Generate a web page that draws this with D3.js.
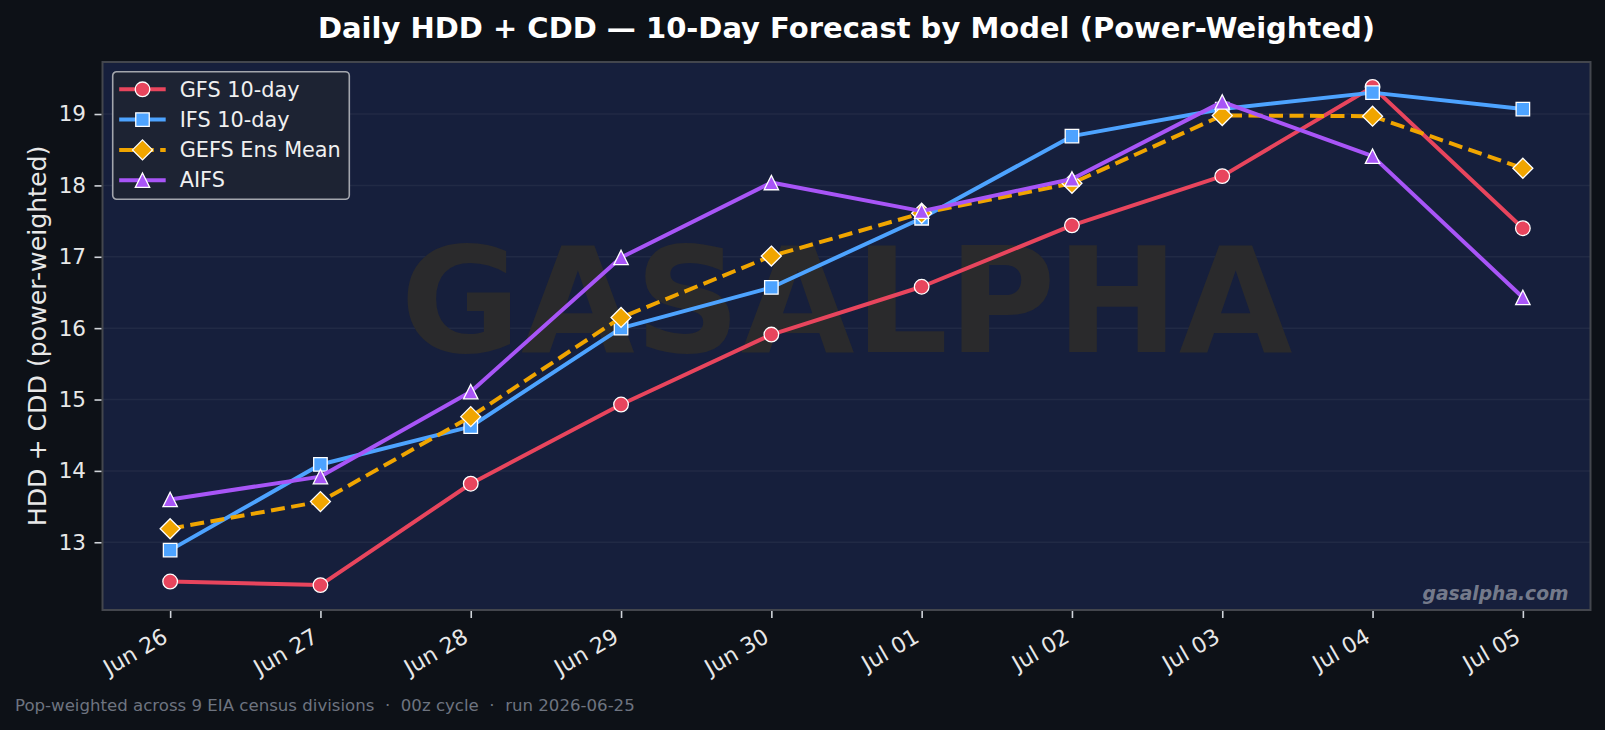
<!DOCTYPE html>
<html>
<head>
<meta charset="utf-8">
<script src="https://cdn.jsdelivr.net/npm/d3@7"></script>
<style>
  html, body { margin: 0; padding: 0; background: #0d1117; }
  text { font-family: "DejaVu Sans", sans-serif; }
</style>
</head>
<body>
<div id="chart"></div>
<script>
// forecast days and model values (HDD + CDD, power-weighted)
days = ['Jun 26', 'Jun 27', 'Jun 28', 'Jun 29', 'Jun 30', 'Jul 01', 'Jul 02', 'Jul 03', 'Jul 04', 'Jul 05']
gfs  = [12.45, 12.40, 13.82, 14.93, 15.91, 16.58, 17.44, 18.13, 19.38, 17.40]
ifs  = [12.89, 14.09, 14.62, 16.00, 16.57, 17.54, 18.69, 19.07, 19.30, 19.07]
gefs = [13.19, 13.57, 14.76, 16.15, 17.01, 17.61, 18.03, 18.98, 18.97, 18.24]
aifs = [13.60, 13.92, 15.11, 16.99, 18.04, 17.64, 18.09, 19.17, 18.41, 16.43]
yTicks = [13, 14, 15, 16, 17, 18, 19]

series = [
    {name: 'GFS 10-day',    values: gfs,  color: '#e8455d', marker: 'circle',   dash: null},
    {name: 'IFS 10-day',    values: ifs,  color: '#4da3ff', marker: 'square',   dash: null},
    {name: 'GEFS Ens Mean', values: gefs, color: '#f0a500', marker: 'diamond',  dash: '14,6.5'},
    {name: 'AIFS',          values: aifs, color: '#a855f7', marker: 'triangle', dash: null}
]

svgWidth = 1605
svgHeight = 730

margin = {top: 62, left: 102.5, right: 14.5, bottom: 120}
width = svgWidth - margin.left - margin.right
height = svgHeight - margin.top - margin.bottom

svg = d3.select('#chart')
        .append('svg')
        .attr('width', svgWidth)
        .attr('height', svgHeight)
        .style('display', 'block')

svg.append('rect')
   .attr('width', svgWidth)
   .attr('height', svgHeight)
   .attr('fill', '#0d1117')

chartGroup = svg.append('g')
                .attr('transform', `translate(${margin.left},${margin.top})`)

chartGroup.append('rect')
          .attr('width', width)
          .attr('height', height)
          .attr('fill', '#161f3c')

// scales, matplotlib-like 5% margins
xScale = d3.scalePoint()
           .domain(days)
           .range([0, width])
           .padding(0.45)

allValues = series.flatMap(s => s.values)
yMin = d3.min(allValues)
yMax = d3.max(allValues)
pad = (yMax - yMin) * 0.05
yScale = d3.scaleLinear()
           .domain([yMin - pad, yMax + pad])
           .range([height, 0])

// grid
chartGroup.append('g')
          .selectAll('line')
          .data(yTicks)
          .enter()
          .append('line')
          .attr('x1', 0)
          .attr('x2', width)
          .attr('y1', d => yScale(d))
          .attr('y2', d => yScale(d))
          .attr('stroke', '#ffffff')
          .attr('stroke-opacity', 0.05)
          .attr('stroke-width', 1.5)

// watermark
chartGroup.append('text')
          .attr('x', width / 2)
          .attr('y', 352 - margin.top)
          .attr('text-anchor', 'middle')
          .attr('font-size', 147)
          .attr('font-weight', 'bold')
          .attr('fill', '#2a2a2c')
          .text('GASALPHA')

chartGroup.append('text')
          .attr('x', width - 22)
          .attr('y', height - 10)
          .attr('text-anchor', 'end')
          .attr('font-size', 18.7)
          .attr('font-weight', 'bold')
          .attr('font-style', 'italic')
          .attr('fill', '#ffffff')
          .attr('fill-opacity', 0.42)
          .text('gasalpha.com')

// marker shapes
function markerPath(type) {
    if (type == 'circle') return d3.symbol().type(d3.symbolCircle).size(Math.PI * 7.3 * 7.3)()
    if (type == 'square') return d3.symbol().type(d3.symbolSquare).size(13.5 * 13.5)()
    if (type == 'diamond') return 'M0,-10L10,0L0,10L-10,0Z'
    return 'M0,-7.2L7.2,7.2L-7.2,7.2Z'
}

line = d3.line()
         .x((d, i) => xScale(days[i]))
         .y(d => yScale(d))

series.forEach(function(s) {
    g = chartGroup.append('g')
    g.append('path')
     .datum(s.values)
     .attr('d', line)
     .attr('fill', 'none')
     .attr('stroke', s.color)
     .attr('stroke-width', 4)
     .attr('stroke-linejoin', 'round')
     .attr('stroke-dasharray', s.dash)

    g.selectAll('path.mk')
     .data(s.values)
     .enter()
     .append('path')
     .attr('class', 'mk')
     .attr('transform', (d, i) => `translate(${xScale(days[i])},${yScale(d)})`)
     .attr('d', markerPath(s.marker))
     .attr('fill', s.color)
     .attr('stroke', '#ffffff')
     .attr('stroke-width', 1.3)
})

// frame
chartGroup.append('rect')
          .attr('width', width)
          .attr('height', height)
          .attr('fill', 'none')
          .attr('stroke', '#43464d')
          .attr('stroke-width', 2)

// axes
bottomAxis = d3.axisBottom(xScale).tickSize(7).tickPadding(0)
leftAxis = d3.axisLeft(yScale).tickValues(yTicks).tickSize(7).tickPadding(8.5)

xAxis = chartGroup.append('g')
                  .attr('transform', `translate(0,${height + 1})`)
                  .call(bottomAxis)
xAxis.selectAll('text')
     .attr('text-anchor', 'end')
     .attr('font-size', 22)
     .attr('dy', null)
     .attr('y', null)
     .attr('transform', 'translate(-1.5,30) rotate(-30)')

yAxis = chartGroup.append('g')
                  .attr('transform', 'translate(-1,0)')
                  .call(leftAxis)
yAxis.selectAll('text').attr('font-size', 21.5)

chartGroup.selectAll('.domain').remove()
chartGroup.selectAll('.tick line').attr('stroke', '#d0d4da').attr('stroke-width', 1.6)
chartGroup.selectAll('.tick text').attr('fill', '#e8e8e8').attr('font-family', '"DejaVu Sans", sans-serif')

// legend
legend = chartGroup.append('g')
                   .attr('transform', 'translate(10.2,9.7)')
legend.append('rect')
      .attr('width', 236.6)
      .attr('height', 127.6)
      .attr('rx', 4)
      .attr('fill', '#1d2333')
      .attr('stroke', '#a3a6ad')
      .attr('stroke-width', 1.6)

item = legend.selectAll('g.item')
             .data(series)
             .enter()
             .append('g')
             .attr('class', 'item')
             .attr('transform', (d, i) => `translate(0,${17.6 + i * 30.3})`)
item.append('line')
    .attr('x1', 6.5)
    .attr('x2', 53)
    .attr('stroke', d => d.color)
    .attr('stroke-width', 4)
    .attr('stroke-dasharray', d => d.dash)
item.append('path')
    .attr('transform', 'translate(29.8,0)')
    .attr('d', d => markerPath(d.marker))
    .attr('fill', d => d.color)
    .attr('stroke', '#ffffff')
    .attr('stroke-width', 1.3)
item.append('text')
    .attr('x', 67)
    .attr('y', 7.2)
    .attr('font-size', 20.8)
    .attr('fill', '#f0f0f0')
    .text(d => d.name)

// titles
svg.append('text')
   .attr('x', margin.left + width / 2)
   .attr('y', 38)
   .attr('text-anchor', 'middle')
   .attr('font-size', 29)
   .attr('font-weight', 'bold')
   .attr('fill', '#ffffff')
   .text('Daily HDD + CDD — 10-Day Forecast by Model (Power-Weighted)')

svg.append('text')
   .attr('transform', `translate(46,${margin.top + height / 2}) rotate(-90)`)
   .attr('text-anchor', 'middle')
   .attr('font-size', 25.2)
   .attr('fill', '#e8e8e8')
   .text('HDD + CDD (power-weighted)')

svg.append('text')
   .attr('x', 15)
   .attr('y', 710.5)
   .attr('font-size', 16.6)
   .attr('fill', '#6e7480')
   .style('white-space', 'pre')
   .text('Pop-weighted across 9 EIA census divisions  ·  00z cycle  ·  run 2026-06-25')
</script>
</body>
</html>
